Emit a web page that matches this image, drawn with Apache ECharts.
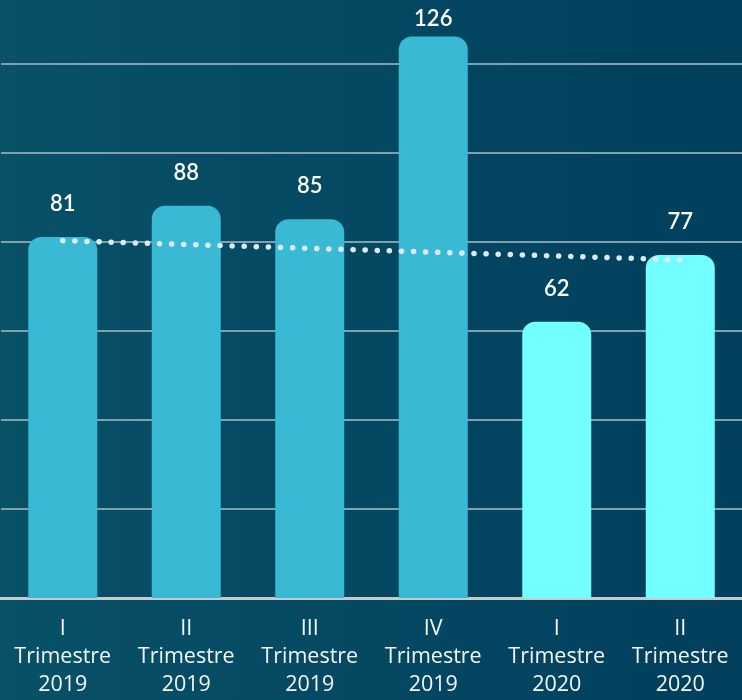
<!DOCTYPE html>
<html><head><meta charset="utf-8">
<script src="https://cdn.jsdelivr.net/npm/echarts@6/dist/echarts.min.js"></script>
<style>html,body{margin:0;padding:0;}#c{width:742px;height:700px;}</style>
</head><body><div id="c"></div>
<script>
const categories = ['I\nTrimestre\n2019','II\nTrimestre\n2019','III\nTrimestre\n2019','IV\nTrimestre\n2019','I\nTrimestre\n2020','II\nTrimestre\n2020'];
const values = [81, 88, 85, 126, 62, 77];
const trend = [80.2, null, null, null, null, 75.9];
const barColors = ['#39B9D3','#39B9D3','#39B9D3','#39B9D3','#71FFFF','#71FFFF'];

const chart = echarts.init(document.getElementById('c'));
chart.setOption({
  backgroundColor: new echarts.graphic.LinearGradient(0,0,1,0,[{offset:0,color:'#085167'},{offset:1,color:'#013F5D'}]),
  animation: false,
  grid: {left: 1, right: -4, top: 0, bottom: 102, containLabel: false},
  xAxis: {
    type: 'category', data: categories,
    axisLine: {lineStyle: {color: '#C3CBCF', width: 3}},
    axisTick: {show: false},
    axisLabel: {interval: 0, hideOverlap: false, color: '#F4F6F7', fontFamily: 'Open Sans', fontSize: 21.5, fontWeight: 400, lineHeight: 28, margin: 17}
  },
  yAxis: {
    type: 'value', min: 0, max: 134.2, interval: 20,
    axisLabel: {show: false}, axisLine: {show: false}, axisTick: {show: false},
    splitLine: {showMaxLine: false, lineStyle: {color: '#7FA0AE', width: 2}}
  },
  series: [
    {
      type: 'bar', barWidth: 69,
      data: values.map((v,i) => ({value: v, itemStyle: {color: barColors[i], borderRadius: [13,13,0,0]},
        label: {distance: v > 120 ? 7 : 22}})),
      label: {show: true, position: 'top', color: '#FFFFFF', fontFamily: 'Lato', fontSize: 22, fontWeight: 600}
    },
    {
      type: 'line', data: trend, connectNulls: true, symbol: 'none', z: 5,
      lineStyle: {color: '#DCEBFA', width: 5.5, type: [0.1, 12], cap: 'round'}
    }
  ]
});
</script></body></html>
